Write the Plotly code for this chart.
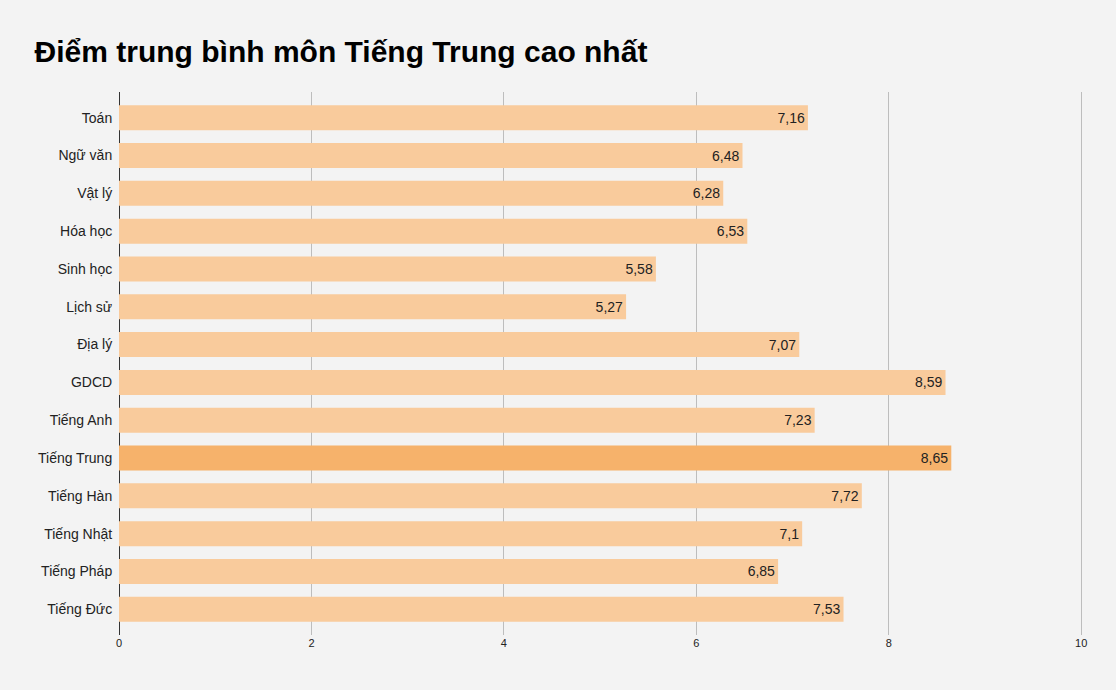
import plotly.graph_objects as go

subjects = ['Toán', 'Ngữ văn', 'Vật lý', 'Hóa học', 'Sinh học', 'Lịch sử', 'Địa lý',
            'GDCD', 'Tiếng Anh', 'Tiếng Trung', 'Tiếng Hàn', 'Tiếng Nhật',
            'Tiếng Pháp', 'Tiếng Đức']
scores = [7.16, 6.48, 6.28, 6.53, 5.58, 5.27, 7.07, 8.59, 7.23, 8.65, 7.72, 7.1, 6.85, 7.53]
highlight = 'Tiếng Trung'

colors = ['#f6b26b' if s == highlight else '#f9cb9c' for s in subjects]
labels = [str(v).replace('.', ',') for v in scores]

fig = go.Figure(go.Bar(
    x=scores, y=subjects, orientation='h',
    marker=dict(color=colors, line=dict(width=0)),
    width=0.66,
    text=labels, textposition='inside', insidetextanchor='end',
    textfont=dict(family='Liberation Sans, Arial', size=14, color='#222222'),
    cliponaxis=False,
))

fig.update_layout(
    width=1116, height=690,
    paper_bgcolor='#f3f3f3', plot_bgcolor='#f3f3f3',
    margin=dict(l=119, r=30, t=92, b=55),
    title=dict(text='<b>Điểm trung bình môn Tiếng Trung cao nhất</b>',
               x=0.031, xanchor='left', y=0.925, yanchor='middle',
               font=dict(family='Liberation Sans, Arial', size=30, color='#000000')),
    font=dict(family='Liberation Sans, Arial', color='#222222'),
    showlegend=False,
)
# a little slack past 10 so the last gridline is drawn
fig.update_xaxes(range=[0, 10.05], tickvals=[0, 2, 4, 6, 8, 10], showgrid=True,
                 gridcolor='#bdbdbd', gridwidth=1,
                 zeroline=True, zerolinecolor='#333333', zerolinewidth=1,
                 tickfont=dict(size=11, color='#222222'), ticks='')
fig.update_yaxes(range=[13.68, -0.68], tickfont=dict(size=14, color='#222222'),
                 ticks='outside', tickcolor='rgba(0,0,0,0)', ticklen=3, showgrid=False)

# drop the default page margin so the figure fills the window
fig.write_html("out.html", config={'displayModeBar': False},
               post_script="document.body.style.margin='0px';")
